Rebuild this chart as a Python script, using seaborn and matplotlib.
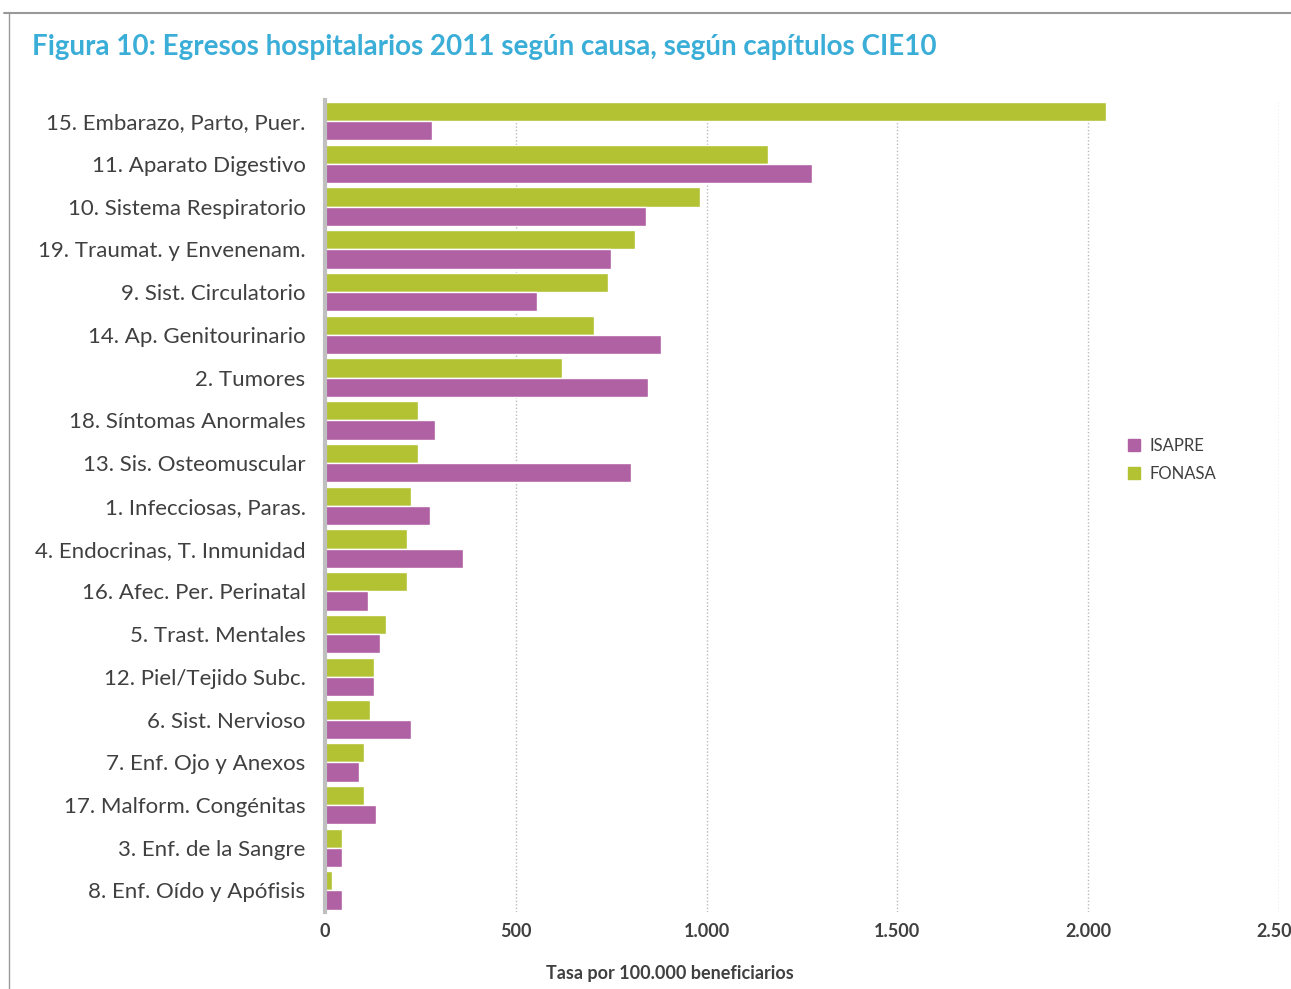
import pandas as pd
import matplotlib.pyplot as plt
import seaborn as sns
from matplotlib.patches import Patch
from matplotlib.lines import Line2D
from matplotlib.ticker import FuncFormatter

causas = ["15. Embarazo, Parto, Puer.", "11. Aparato Digestivo", "10. Sistema Respiratorio",
          "19. Traumat. y Envenenam.", "9. Sist. Circulatorio", "14. Ap. Genitourinario",
          "2. Tumores", "18. Síntomas Anormales", "13. Sis. Osteomuscular",
          "1. Infecciosas, Paras.", "4. Endocrinas, T. Inmunidad", "16. Afec. Per. Perinatal",
          "5. Trast. Mentales", "12. Piel/Tejido Subc.", "6. Sist. Nervioso",
          "7. Enf. Ojo y Anexos", "17. Malform. Congénitas", "3. Enf. de la Sangre",
          "8. Enf. Oído y Apófisis"]
fonasa = [2047, 1160, 982, 812, 743, 704, 620, 243, 243, 225, 215, 215, 160, 128, 118, 102, 102, 45, 18]
isapre = [280, 1275, 840, 749, 555, 880, 846, 288, 801, 275, 361, 113, 144, 128, 225, 89, 134, 45, 45]

verde = "#B2C232"
morado = "#B061A3"
titulo_color = "#3BAED8"
texto = "#404040"

df = pd.DataFrame({"causa": causas * 2,
                   "valor": fonasa + isapre,
                   "sistema": ["FONASA"] * len(causas) + ["ISAPRE"] * len(causas)})

sns.set_style("white")
plt.rcParams['font.family'] = ['Lato', 'DejaVu Sans']

fig = plt.figure(figsize=(12.91, 9.89), dpi=100)
ax = fig.add_axes([0.2517, 0.078, 0.739, 0.821])

sns.barplot(data=df, y="causa", x="valor", hue="sistema", hue_order=["FONASA", "ISAPRE"],
            palette={"FONASA": verde, "ISAPRE": morado}, orient="h", width=0.9,
            saturation=1, ax=ax, legend=False)

ax.set_xlim(0, 2500)
ax.set_xticks([0, 500, 1000, 1500, 2000, 2500])
ax.xaxis.set_major_formatter(FuncFormatter(lambda v, p: f"{int(v):,}".replace(",", ".")))
ax.grid(axis="x", color="#BBBBBB", linestyle=(0, (1, 1.5)), linewidth=1)
ax.set_axisbelow(True)
for s in ["top", "right", "bottom"]:
    ax.spines[s].set_visible(False)
ax.spines["left"].set_color("#BFBFBF")
ax.spines["left"].set_linewidth(3)
ax.tick_params(axis="both", length=0)
ax.tick_params(axis="y", pad=14, labelsize=16, labelcolor=texto)
ax.tick_params(axis="x", pad=8, labelsize=13, labelcolor=texto)
for t in ax.get_xticklabels():
    t.set_fontweight("bold")
ax.set_ylabel("")
ax.set_xlabel("Tasa por 100.000 beneficiarios", fontsize=13, fontweight="bold", color=texto)
ax.xaxis.set_label_coords(0.362, -0.066)

handles = [Patch(color=morado, label="ISAPRE"), Patch(color=verde, label="FONASA")]
fig.legend(handles=handles, loc="center left", bbox_to_anchor=(0.862, 0.535), frameon=False,
           fontsize=12, handlelength=0.7, handleheight=0.7, labelspacing=0.75, handletextpad=0.6,
           labelcolor=texto)

fig.text(0.025, 0.952, "Figura 10: Egresos hospitalarios 2011 según causa, según capítulos CIE10",
         fontsize=20, fontweight="bold", color=titulo_color, va="center")

# marco gris superior e izquierdo
fig.add_artist(Line2D([0.003, 1.0], [0.987, 0.987], transform=fig.transFigure, color="#999999", lw=1.5))
fig.add_artist(Line2D([0.007, 0.007], [0.0, 0.987], transform=fig.transFigure, color="#999999", lw=1))

fig.savefig("out.png", dpi=100)
